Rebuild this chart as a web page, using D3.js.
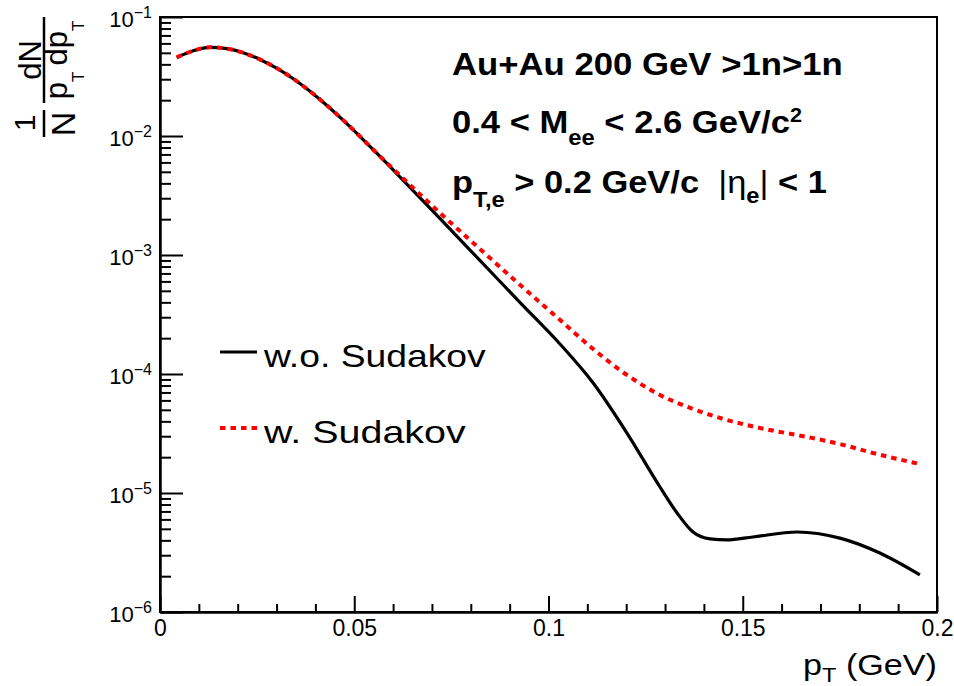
<!DOCTYPE html>
<html><head><meta charset="utf-8">
<script src="https://cdn.jsdelivr.net/npm/d3@7/dist/d3.min.js"></script>
<style>
body{margin:0;background:#fff}
svg{display:block}
text{font-family:"Liberation Sans",Arial,Helvetica,sans-serif;fill:#000}
</style>
</head><body>
<svg id="chart" width="954" height="686"></svg>
<script>
// pT spectrum of the dielectron pair, without Sudakov resummation
const ptNoSud = [0.0043,0.0086,0.0129,0.0172,0.0214,0.0257,0.0300,0.0343,0.0386,0.0429,0.0472,0.0515,0.0558,0.0618,0.0721,0.0824,0.0927,0.1030,0.1115,0.1202,0.1287,0.1331,0.1372,0.1416,0.1459,0.1526,0.1640,0.1750,0.1853,0.1956];
const valNoSud = [0.0458,0.0521,0.0556,0.0542,0.0501,0.0440,0.0372,0.0303,0.0238,0.01815,0.01354,0.00990,0.00717,0.00452,0.00202,0.000897,0.000398,0.000178,8.40e-5,3.19e-5,1.123e-5,6.79e-6,4.70e-6,4.11e-6,4.03e-6,4.27e-6,4.70e-6,4.18e-6,3.13e-6,2.05e-6];
// ... and with Sudakov resummation
const ptSud = [0.0043,0.0086,0.0129,0.0172,0.0214,0.0257,0.0300,0.0343,0.0386,0.0429,0.0472,0.0515,0.0558,0.0618,0.0721,0.0824,0.0927,0.1030,0.1115,0.1202,0.1287,0.1372,0.1459,0.1544,0.1665,0.1750,0.1835,0.1956];
const valSud = [0.0458,0.0521,0.0556,0.0542,0.0501,0.0440,0.0372,0.0303,0.0238,0.01815,0.01354,0.00990,0.00717,0.00466,0.00225,0.00112,0.000560,0.000284,0.000162,9.81e-5,6.66e-5,5.08e-5,4.11e-5,3.52e-5,2.96e-5,2.58e-5,2.17e-5,1.75e-5];

const xMajor = [0,0.05,0.1,0.15,0.2];
const xMajorLabels = ["0","0.05","0.1","0.15","0.2"];
const yDecades = [1e-6,1e-5,1e-4,1e-3,1e-2,1e-1];
const yExponents = ["\u22126","\u22125","\u22124","\u22123","\u22122","\u22121"];
const legendLabels = ["w.o. Sudakov","w. Sudakov"];

const svg = d3.select("#chart");
svg.append("rect").attr("width",954).attr("height",686).attr("fill","#fff");

const L = 160, R = 937, T = 17, B = 612;
const x = d3.scaleLinear().domain([0,0.2]).range([L,R]);
const y = d3.scaleLog().domain([1e-6,1e-1]).range([B,T]);

// stretch a text horizontally to a given width about a pivot x
function fitWidth(sel, width, pivot){
  const bb = sel.node().getBBox();
  const s = width / bb.width;
  sel.attr("transform",`translate(${pivot},0) scale(${s},1) translate(${-pivot},0)`);
}

// frame
svg.append("rect").attr("x",L).attr("y",T).attr("width",R-L).attr("height",B-T)
  .attr("fill","none").attr("stroke","#000").attr("stroke-width",2);

// x axis ticks (pointing into the frame)
const xMinor = d3.range(0,0.2001,0.01).filter(v => !xMajor.some(m => Math.abs(m-v)<1e-9));
const xAxisMinor = svg.append("g").attr("transform",`translate(0,${B})`)
  .call(d3.axisBottom(x).tickValues(xMinor).tickSize(-8).tickSizeOuter(0).tickFormat(""));
const xAxisMajor = svg.append("g").attr("transform",`translate(0,${B})`)
  .call(d3.axisBottom(x).tickValues(xMajor).tickSize(-16).tickSizeOuter(0).tickPadding(8)
    .tickFormat((d,i) => xMajorLabels[i]));
xAxisMajor.selectAll("text").attr("font-size",23).attr("font-family","'Liberation Sans',Arial,sans-serif")
  .attr("dy",null).attr("y",24);

// y axis ticks
const yMinor = [];
yDecades.slice(0,-1).forEach(d => { for(let k=2;k<=9;k++) yMinor.push(d*k); });
const yAxisMinor = svg.append("g").attr("transform",`translate(${L},0)`)
  .call(d3.axisLeft(y).tickValues(yMinor).tickSize(-11).tickSizeOuter(0).tickFormat(""));
const yAxisMajor = svg.append("g").attr("transform",`translate(${L},0)`)
  .call(d3.axisLeft(y).tickValues(yDecades).tickSize(-23).tickSizeOuter(0).tickFormat(""));
[xAxisMinor,xAxisMajor,yAxisMinor,yAxisMajor].forEach(g => {
  g.select(".domain").attr("stroke-width",2);
  g.selectAll(".tick line").attr("stroke-width",2);
});

// y tick labels 10^n
yDecades.forEach((d,i) => {
  const t = svg.append("text").attr("x",152).attr("y",y(d)+10).attr("text-anchor","end")
    .attr("font-size",22);
  t.append("tspan").text("10");
  t.append("tspan").attr("dy",-9).attr("font-size",16).text(yExponents[i]);
});

// curves
const line = d3.line().curve(d3.curveMonotoneX);
svg.append("path")
  .attr("d", line(ptNoSud.map((p,i) => [x(p), y(valNoSud[i])])))
  .attr("fill","none").attr("stroke","#000").attr("stroke-width",3.2);
svg.append("path")
  .attr("d", line(ptSud.map((p,i) => [x(p), y(valSud[i])])))
  .attr("fill","none").attr("stroke","#ff0000").attr("stroke-width",4)
  .attr("stroke-dasharray","5.5,5");

// legend
const legY = [352, 428];
svg.append("line").attr("x1",220).attr("x2",257).attr("y1",legY[0]).attr("y2",legY[0])
  .attr("stroke","#000").attr("stroke-width",3.2);
svg.append("line").attr("x1",220).attr("x2",257).attr("y1",legY[1]).attr("y2",legY[1])
  .attr("stroke","#ff0000").attr("stroke-width",4).attr("stroke-dasharray","5.5,5");
const legW = [223, 203];
legendLabels.forEach((s,i) => {
  const t = svg.append("text").attr("x",264).attr("y",legY[i]+15).attr("font-size",32).text(s);
  fitWidth(t, legW[i], 264);
});

// info text
const l1 = svg.append("text").attr("x",452).attr("y",75).attr("font-size",32).attr("font-weight","bold")
  .text("Au+Au 200 GeV >1n>1n");
fitWidth(l1, 391, 452);

const l2 = svg.append("text").attr("x",452).attr("y",133).attr("font-size",32).attr("font-weight","bold");
l2.append("tspan").text("0.4 < M");
l2.append("tspan").attr("dy",12).attr("font-size",22).text("ee");
l2.append("tspan").attr("dy",-12).text(" < 2.6 GeV/c");
l2.append("tspan").attr("dy",-11).attr("font-size",20).text("2");
fitWidth(l2, 350, 452);

const l3 = svg.append("text").attr("x",452).attr("y",193).attr("font-size",32).attr("font-weight","bold");
l3.append("tspan").text("p");
l3.append("tspan").attr("dy",14).attr("font-size",22).text("T,e");
l3.append("tspan").attr("dy",-14).text(" > 0.2 GeV/c \u00a0");
l3.append("tspan").attr("font-weight","normal").text("|\u03b7");
l3.append("tspan").attr("dy",10).attr("font-size",22).text("e");
l3.append("tspan").attr("dy",-10).attr("font-weight","normal").text("|");
l3.append("tspan").text(" < 1");
fitWidth(l3, 375, 452);

// x axis title
const xt = svg.append("text").attr("x",R).attr("y",675).attr("text-anchor","end").attr("font-size",29);
xt.append("tspan").text("p");
xt.append("tspan").attr("dy",7).attr("font-size",20).text("T");
xt.append("tspan").attr("dy",-7).text(" (GeV)");
fitWidth(xt, 134, R);

// y axis title: 1/N dN/(pT dpT), rotated
const yt = svg.append("g").attr("transform","translate(44,137) rotate(-90)");
yt.append("line").attr("x1",0).attr("x2",27).attr("y1",0).attr("y2",0).attr("stroke","#000").attr("stroke-width",2.5);
yt.append("text").attr("x",14).attr("y",-9).attr("text-anchor","middle").attr("font-size",30).text("1");
yt.append("text").attr("x",13).attr("y",31).attr("text-anchor","middle").attr("font-size",34).text("N");
yt.append("line").attr("x1",34).attr("x2",120).attr("y1",0).attr("y2",0).attr("stroke","#000").attr("stroke-width",2.5);
yt.append("text").attr("x",77).attr("y",-3).attr("text-anchor","middle").attr("font-size",31).text("dN");
const den = yt.append("text").attr("x",77).attr("y",23).attr("text-anchor","middle").attr("font-size",31);
den.append("tspan").text("p");
den.append("tspan").attr("dy",17).attr("font-size",17).text("T");
den.append("tspan").attr("dy",-17).text("\u2009dp");
den.append("tspan").attr("dy",17).attr("font-size",17).text("T");
</script>
</body></html>
